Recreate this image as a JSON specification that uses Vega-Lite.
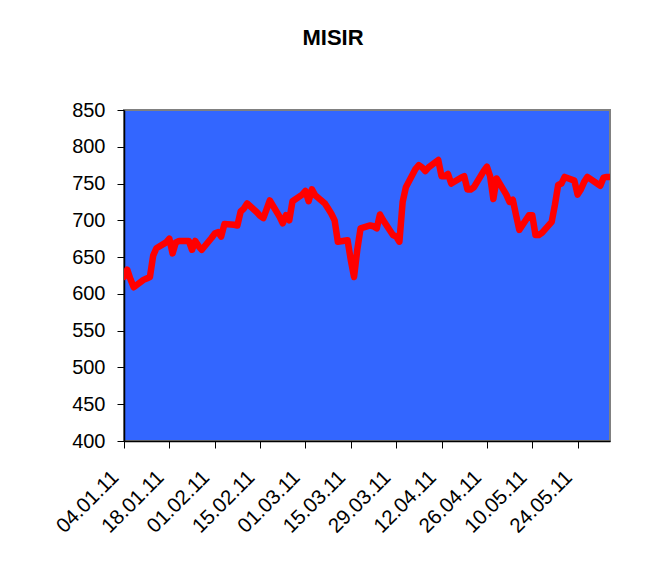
{
  "$schema": "https://vega.github.io/schema/vega-lite/v6.json",
  "width": 486,
  "height": 331,
  "autosize": "none",
  "padding": {"left": 124, "top": 110, "right": 42, "bottom": 122},
  "background": "white",
  "title": {"text": "MISIR", "font": "Liberation Sans", "fontSize": 22, "fontWeight": "bold", "color": "black", "anchor": "middle", "frame": "group", "dx": -34, "offset": 33, "baseline": "alphabetic"},
  "data": {"values": [
    {"date": "2011-01-04", "value": 623}, {"date": "2011-01-05", "value": 633}, {"date": "2011-01-06", "value": 620}, {"date": "2011-01-07", "value": 609},
    {"date": "2011-01-10", "value": 619}, {"date": "2011-01-11", "value": 621}, {"date": "2011-01-12", "value": 623}, {"date": "2011-01-13", "value": 652}, {"date": "2011-01-14", "value": 662},
    {"date": "2011-01-17", "value": 670}, {"date": "2011-01-18", "value": 675}, {"date": "2011-01-19", "value": 655}, {"date": "2011-01-20", "value": 670}, {"date": "2011-01-21", "value": 672},
    {"date": "2011-01-24", "value": 672}, {"date": "2011-01-25", "value": 660}, {"date": "2011-01-26", "value": 672}, {"date": "2011-01-27", "value": 665}, {"date": "2011-01-28", "value": 660},
    {"date": "2011-01-31", "value": 676}, {"date": "2011-02-01", "value": 682}, {"date": "2011-02-02", "value": 684}, {"date": "2011-02-03", "value": 678}, {"date": "2011-02-04", "value": 695},
    {"date": "2011-02-07", "value": 694}, {"date": "2011-02-08", "value": 693}, {"date": "2011-02-09", "value": 712}, {"date": "2011-02-10", "value": 716}, {"date": "2011-02-11", "value": 723},
    {"date": "2011-02-14", "value": 711}, {"date": "2011-02-15", "value": 706}, {"date": "2011-02-16", "value": 703}, {"date": "2011-02-17", "value": 715}, {"date": "2011-02-18", "value": 727},
    {"date": "2011-02-21", "value": 705}, {"date": "2011-02-22", "value": 696}, {"date": "2011-02-23", "value": 707}, {"date": "2011-02-24", "value": 700}, {"date": "2011-02-25", "value": 726},
    {"date": "2011-02-28", "value": 735}, {"date": "2011-03-01", "value": 740}, {"date": "2011-03-02", "value": 726}, {"date": "2011-03-03", "value": 742}, {"date": "2011-03-04", "value": 734},
    {"date": "2011-03-07", "value": 723}, {"date": "2011-03-08", "value": 716}, {"date": "2011-03-09", "value": 709}, {"date": "2011-03-10", "value": 700}, {"date": "2011-03-11", "value": 671},
    {"date": "2011-03-14", "value": 673}, {"date": "2011-03-15", "value": 646}, {"date": "2011-03-16", "value": 623}, {"date": "2011-03-17", "value": 660}, {"date": "2011-03-18", "value": 689},
    {"date": "2011-03-21", "value": 693}, {"date": "2011-03-22", "value": 692}, {"date": "2011-03-23", "value": 689}, {"date": "2011-03-24", "value": 708}, {"date": "2011-03-25", "value": 700},
    {"date": "2011-03-28", "value": 680}, {"date": "2011-03-29", "value": 678}, {"date": "2011-03-30", "value": 671}, {"date": "2011-03-31", "value": 725}, {"date": "2011-04-01", "value": 745},
    {"date": "2011-04-04", "value": 770}, {"date": "2011-04-05", "value": 775}, {"date": "2011-04-06", "value": 772}, {"date": "2011-04-07", "value": 767}, {"date": "2011-04-08", "value": 772},
    {"date": "2011-04-11", "value": 782}, {"date": "2011-04-12", "value": 760}, {"date": "2011-04-13", "value": 760}, {"date": "2011-04-14", "value": 763}, {"date": "2011-04-15", "value": 750},
    {"date": "2011-04-18", "value": 758}, {"date": "2011-04-19", "value": 760}, {"date": "2011-04-20", "value": 742}, {"date": "2011-04-21", "value": 742}, {"date": "2011-04-22", "value": 745},
    {"date": "2011-04-25", "value": 767}, {"date": "2011-04-26", "value": 773}, {"date": "2011-04-27", "value": 760}, {"date": "2011-04-28", "value": 729}, {"date": "2011-04-29", "value": 757},
    {"date": "2011-05-02", "value": 735}, {"date": "2011-05-03", "value": 725}, {"date": "2011-05-04", "value": 728}, {"date": "2011-05-05", "value": 707}, {"date": "2011-05-06", "value": 687},
    {"date": "2011-05-09", "value": 707}, {"date": "2011-05-10", "value": 707}, {"date": "2011-05-11", "value": 680}, {"date": "2011-05-12", "value": 680}, {"date": "2011-05-13", "value": 683},
    {"date": "2011-05-16", "value": 698}, {"date": "2011-05-17", "value": 721}, {"date": "2011-05-18", "value": 748}, {"date": "2011-05-19", "value": 750}, {"date": "2011-05-20", "value": 759},
    {"date": "2011-05-23", "value": 754}, {"date": "2011-05-24", "value": 735}, {"date": "2011-05-25", "value": 742}, {"date": "2011-05-26", "value": 752}, {"date": "2011-05-27", "value": 759},
    {"date": "2011-05-30", "value": 750}, {"date": "2011-05-31", "value": 747}, {"date": "2011-06-01", "value": 758}, {"date": "2011-06-02", "value": 759}, {"date": "2011-06-03", "value": 759}
  ]},
  "mark": {"type": "line", "color": "#FF0000", "strokeWidth": 6.5, "strokeJoin": "round", "strokeCap": "round", "clip": true},
  "encoding": {
    "x": {
      "field": "date", "type": "temporal",
      "scale": {"type": "utc", "domain": [{"year": 2011, "month": 1, "date": 4, "utc": true}, {"year": 2011, "month": 6, "date": 3, "utc": true}]},
      "axis": {
        "values": [
          {"year": 2011, "month": 1, "date": 4, "utc": true}, {"year": 2011, "month": 1, "date": 18, "utc": true},
          {"year": 2011, "month": 2, "date": 1, "utc": true}, {"year": 2011, "month": 2, "date": 15, "utc": true},
          {"year": 2011, "month": 3, "date": 1, "utc": true}, {"year": 2011, "month": 3, "date": 15, "utc": true},
          {"year": 2011, "month": 3, "date": 29, "utc": true}, {"year": 2011, "month": 4, "date": 12, "utc": true},
          {"year": 2011, "month": 4, "date": 26, "utc": true}, {"year": 2011, "month": 5, "date": 10, "utc": true},
          {"year": 2011, "month": 5, "date": 24, "utc": true}
        ],
        "labelExpr": "utcFormat(datum.value, '%d.%m.%y')",
        "labelAngle": -45, "labelAlign": "right", "labelBaseline": "middle",
        "labelFont": "Liberation Sans", "labelFontSize": 20.5, "labelColor": "black",
        "labelPadding": 26, "labelOffset": -9, "labelOverlap": false, "labelBound": false, "labelFlush": false,
        "tickSize": 7, "tickColor": "black", "tickWidth": 1, "domainColor": "black", "domainWidth": 1.5,
        "grid": false, "title": null
      }
    },
    "y": {
      "field": "value", "type": "quantitative",
      "scale": {"domain": [400, 850], "nice": false, "zero": false},
      "axis": {
        "values": [400, 450, 500, 550, 600, 650, 700, 750, 800, 850],
        "labelFont": "Liberation Sans", "labelFontSize": 20, "labelColor": "black",
        "labelPadding": 12, "tickSize": 7, "tickColor": "black", "domainColor": "black", "domainWidth": 1.5,
        "grid": false, "title": null
      }
    }
  },
  "config": {"view": {"fill": "#3366FF", "stroke": "#808080", "strokeWidth": 2}}
}
